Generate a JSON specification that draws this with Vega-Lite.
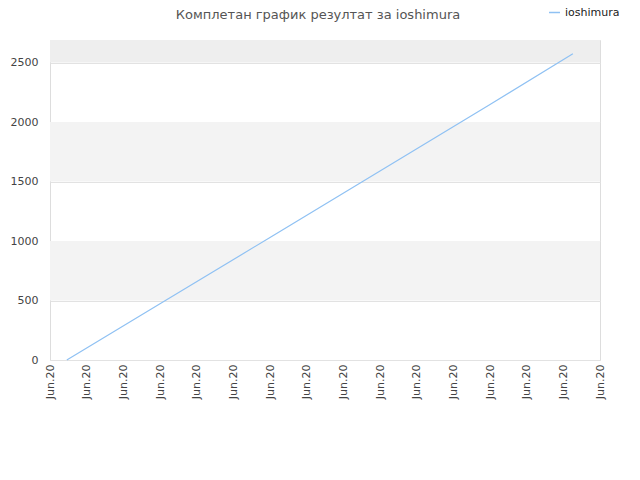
{
  "$schema": "https://vega.github.io/schema/vega-lite/v6.json",
  "width": 550,
  "height": 320,
  "autosize": {"type": "none"},
  "padding": {"left": 50, "top": 40, "right": 40, "bottom": 120},
  "background": "white",
  "view": {"stroke": "#dddddd", "strokeWidth": 1},
  "title": {
    "text": "Комплетан график резултат за ioshimura",
    "font": "DejaVu Sans",
    "fontSize": 13,
    "fontWeight": "normal",
    "color": "#555555",
    "anchor": "middle",
    "frame": "group",
    "offset": 0,
    "dy": 16,
    "dx": -7
  },
  "config": {
    "font": "DejaVu Sans",
    "axis": {"labelFont": "DejaVu Sans", "labelFontSize": 11, "labelColor": "#444444"}
  },
  "layer": [
    {
      "data": {
        "values": [
          {"lo": 500, "hi": 1000},
          {"lo": 1500, "hi": 2000},
          {"lo": 2500, "hi": 2690}
        ]
      },
      "mark": {"type": "rect"},
      "encoding": {
        "y": {"field": "lo", "type": "quantitative"},
        "y2": {"field": "hi"},
        "fill": {
          "condition": {"test": "datum.lo >= 2500", "value": "#eeeeee"},
          "value": "#f3f3f3"
        }
      }
    },
    {
      "data": {
        "values": [
          {"date": "2020-06-05T11:00:00", "score": 0, "player": "ioshimura"},
          {"date": "2020-06-08T00:00:00", "score": 472, "player": "ioshimura"},
          {"date": "2020-06-11T00:00:00", "score": 1030, "player": "ioshimura"},
          {"date": "2020-06-14T00:00:00", "score": 1588, "player": "ioshimura"},
          {"date": "2020-06-17T00:00:00", "score": 2147, "player": "ioshimura"},
          {"date": "2020-06-19T06:15:00", "score": 2575, "player": "ioshimura"}
        ]
      },
      "mark": {"type": "line", "strokeWidth": 1.2},
      "encoding": {
        "x": {
          "field": "date",
          "type": "temporal",
          "title": null,
          "scale": {
            "domain": [
              {"year": 2020, "month": 6, "date": 5},
              {"year": 2020, "month": 6, "date": 20}
            ],
            "nice": false
          },
          "axis": {
            "format": "%b.%y",
            "tickCount": {"interval": "day", "step": 1},
            "labelAngle": -90,
            "labelAlign": "right",
            "labelBaseline": "middle",
            "labelPadding": 4,
            "grid": false,
            "ticks": false,
            "domain": false,
            "labelOverlap": false,
            "labelFlush": false
          }
        },
        "y": {
          "field": "score",
          "type": "quantitative",
          "title": null,
          "scale": {"domain": [0, 2690], "nice": false},
          "axis": {
            "values": [0, 500, 1000, 1500, 2000, 2500],
            "format": "d",
            "grid": true,
            "gridColor": "#e2e2e2",
            "ticks": false,
            "domain": false,
            "labelPadding": 12
          }
        },
        "color": {
          "field": "player",
          "type": "nominal",
          "scale": {"range": ["#8fc1f3"]},
          "legend": {
            "title": null,
            "orient": "none",
            "legendX": 498,
            "legendY": -34,
            "symbolType": "stroke",
            "symbolStrokeWidth": 1.5,
            "symbolSize": 120,
            "labelFontSize": 11,
            "labelColor": "#222222",
            "labelFont": "DejaVu Sans"
          }
        }
      }
    }
  ]
}
